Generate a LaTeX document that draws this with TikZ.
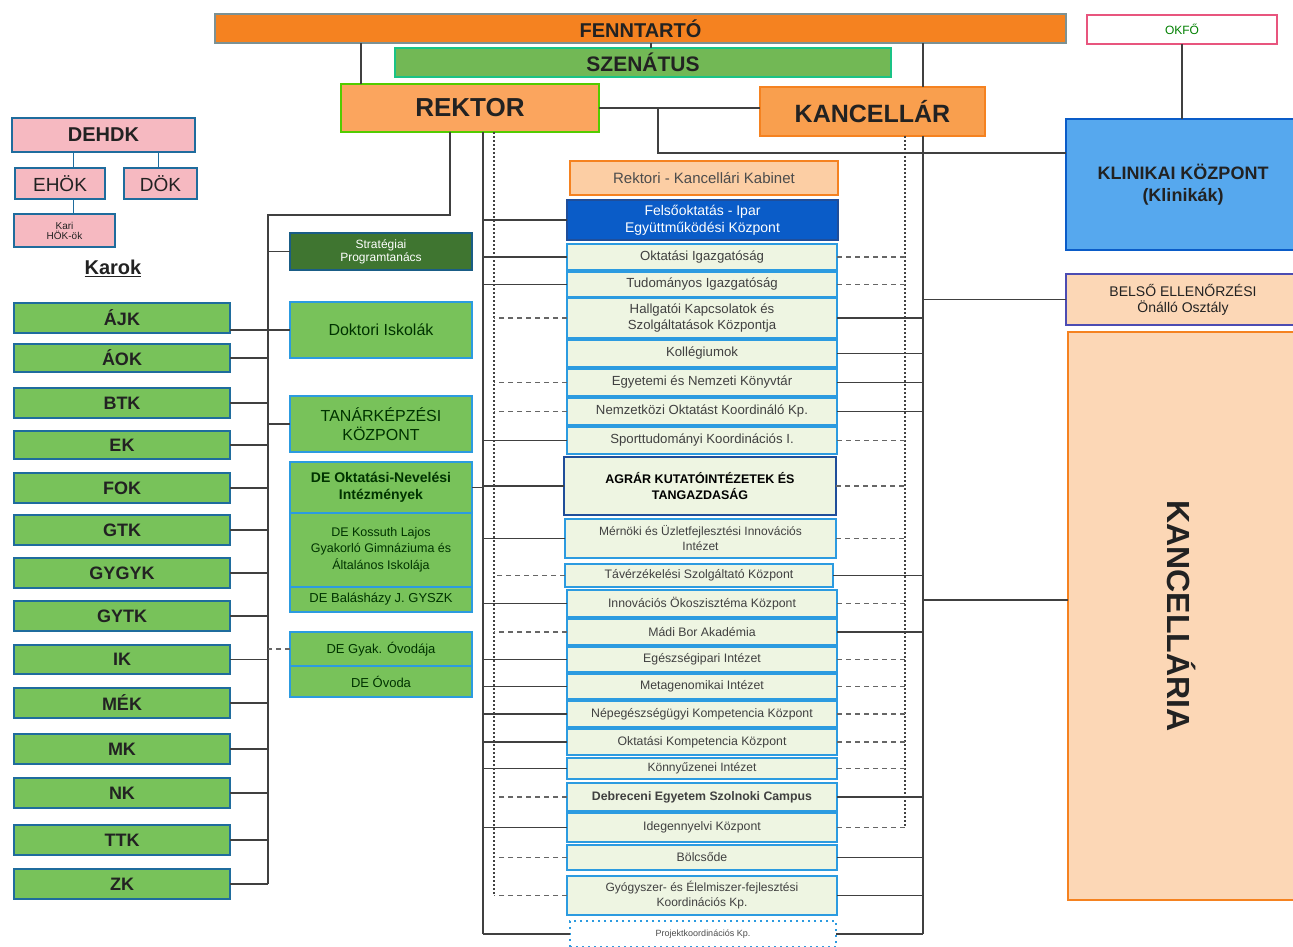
\documentclass[tikz,border=0pt]{standalone}
\usepackage{fontspec}
\setmainfont{Liberation Sans}
\usetikzlibrary{calc}
\definecolor{orgA}{HTML}{F58220}
\definecolor{orgB}{HTML}{F99F4E}
\definecolor{orgL}{HTML}{FBA55E}
\definecolor{peach}{HTML}{FCD7B6}
\definecolor{grn}{HTML}{78C25A}
\definecolor{grnD}{HTML}{3F7530}
\definecolor{grnL}{HTML}{EEF5E2}
\definecolor{bluB}{HTML}{2C9BE0}
\definecolor{bluD}{HTML}{1F4E9A}
\definecolor{bluF}{HTML}{0A5CC8}
\definecolor{bluK}{HTML}{56A8EE}
\definecolor{pink}{HTML}{F6B9C1}
\definecolor{okfob}{HTML}{E8557E}
\definecolor{txt}{HTML}{222222}
\definecolor{lin}{HTML}{404040}
\newcommand\fsz[1]{\fontsize{#1}{#1}\selectfont}
% \BX{style}{x1}{y1}{x2}{y2}{name} {text};
\newcommand\BX[6]{\node[#1, minimum width={#4-#2}, minimum height={#5-#3}] (#6) at ({(#2+#4)/2},{(#3+#5)/2})}
\begin{document}
\begin{tikzpicture}[x=1pt,y=-1pt,
  bx/.style={draw, inner sep=0pt, outer sep=0pt, align=center, text=txt, line width=1.5pt},
  midb/.style={bx, fill=grnL, draw=bluB, line width=2pt, font=\fsz{13.2}, text=black!75},
  fac/.style={bx, fill=grn, draw=bluB!70!black, line width=2pt, font=\fsz{18}\bfseries},
  lgr/.style={bx, fill=grn, draw=bluB, line width=2pt, text=black!80!green},
  hok/.style={bx, fill=pink, draw=bluB!70!black, line width=1.5pt},
  conn/.style={draw=lin, line width=1.4pt},
  dconn/.style={draw=lin!80, line width=1.3pt, dash pattern=on 5pt off 4pt},
  dotv/.style={draw=lin, line width=1.6pt, dash pattern=on 1.6pt off 2.4pt}]
\useasboundingbox (0,0) rectangle (1293,947);
\fill[white] (0,0) rectangle (1293,947);

% ---- top level
\BX{bx, fill=orgA, draw=bluB!60!orgA, line width=1.2pt, font=\fsz{20}\bfseries}{215}{14}{1066}{43}{fenn} {FENNTARTÓ};
\BX{bx, fill=white, draw=okfob, line width=1.5pt, text=green!50!black, font=\fsz{12}}{1087}{15}{1277}{44}{okfo} {OKFŐ};
\BX{bx, fill=grn!95!black, draw=bluB!60!green, line width=1.5pt, font=\fsz{21}\bfseries}{395}{48}{891}{77}{szen} {SZENÁTUS};
\BX{bx, fill=orgL, draw=green!60!yellow!80!black, line width=2.5pt, font=\fsz{26}\bfseries}{341}{84}{599}{132}{rek} {REKTOR};
\BX{bx, fill=orgB, draw=orgA, line width=2.5pt, font=\fsz{25}\bfseries}{760}{87}{985}{136}{kanc} {KANCELLÁR};
\BX{bx, fill=bluK, draw=bluF, line width=2pt, font=\fsz{18}\bfseries}{1066}{119}{1300}{250}{klin} {KLINIKAI KÖZPONT\\[4pt](Klinikák)};
\BX{bx, fill=peach, draw=gray!60!blue, line width=1.5pt, font=\fsz{14}}{1066}{274}{1300}{325}{belso} {BELSŐ ELLENŐRZÉSI\\[2pt]Önálló Osztály};
\BX{bx, fill=peach, draw=orgA, line width=2.5pt}{1068}{332}{1300}{900}{kcl} {};
\node[rotate=-90, font=\fsz{32}\bfseries, text=txt] (kcltxt) at (1182,616) {KANCELLÁRIA};

% ---- HÖK
\BX{hok, font=\fsz{20}\bfseries}{12}{118}{195}{152}{dehdk} {DEHDK};
\BX{hok, font=\fsz{19}}{15}{168}{105}{199}{ehok} {EHÖK};
\BX{hok, font=\fsz{19}}{124}{168}{197}{199}{dokh} {DÖK};
\BX{hok, font=\fsz{10}}{14}{214}{115}{247}{kari} {Kari\\HÖK-ök};
\node[font=\fsz{20}\bfseries, text=txt] (karok) at (113,268) {\underline{Karok}};
\coordinate (hx1) at (73,0);
\coordinate (hx2) at (158,0);
\draw[conn, draw=bluB!70!black, line width=1pt] (dehdk.south -| hx1) -- (ehok.north -| hx1);
\draw[conn, draw=bluB!70!black, line width=1pt] (dehdk.south -| hx2) -- (dokh.north -| hx2);
\draw[conn, draw=bluB!70!black, line width=1pt] (ehok.south -| hx1) -- (kari.north -| hx1);

% ---- faculty column
\coordinate (LL) at (268,0);
\foreach \n/\t/\a/\b in {ajk/ÁJK/303/333, aok/ÁOK/344/372, btk/BTK/388/418, ek/EK/431/459, fok/FOK/473/503, gtk/GTK/515/545, gygyk/GYGYK/558/588, gytk/GYTK/601/631, ik/IK/645/674, mek/MÉK/688/718, mk/MK/734/764, nk/NK/778/808, ttk/TTK/825/855, zk/ZK/869/899}
  {\BX{fac}{14}{\a}{230}{\b}{\n} {\t};}

% ---- left middle boxes
\BX{bx, fill=grnD, draw=bluB!60!black, line width=2pt, text=white, font=\fsz{12}}{290}{233}{472}{270}{strat} {Stratégiai\\[1pt]Programtanács};
\BX{lgr, font=\fsz{16}}{290}{302}{472}{358}{dok} {Doktori Iskolák};
\BX{lgr, font=\fsz{16}}{290}{396}{472}{452}{tan} {TANÁRKÉPZÉSI\\[3pt]KÖZPONT};
\BX{lgr, font=\fsz{14}\bfseries}{290}{462}{472}{513}{deon} {DE Oktatási-Nevelési\\[3pt]Intézmények};
\BX{lgr, font=\fsz{12.5}}{290}{513}{472}{587}{kos} {DE Kossuth Lajos\\[3pt]Gyakorló Gimnáziuma és\\[3pt]Általános Iskolája};
\BX{lgr, font=\fsz{13}}{290}{587}{472}{612}{bal} {DE Balásházy J. GYSZK};
\BX{lgr, font=\fsz{13}}{290}{632}{472}{666}{ovi} {DE Gyak. Óvodája};
\BX{lgr, font=\fsz{13}}{290}{666}{472}{697}{ovo} {DE Óvoda};

% ---- middle column
\BX{bx, fill=peach!90!orange, draw=orgA, line width=2.5pt, font=\fsz{15}, text=black!70}{570}{161}{838}{195}{kab} {Rektori - Kancellári Kabinet};
\BX{bx, fill=bluF, draw=bluD, line width=2pt, text=white, font=\fsz{14}}{567}{200}{838}{240}{fel} {Felsőoktatás - Ipar\\[3pt]Együttműködési Központ};
\BX{midb}{567}{244}{837}{270}{okt} {Oktatási Igazgatóság};
\BX{midb}{567}{272}{837}{297}{tud} {Tudományos Igazgatóság};
\BX{midb}{567}{298}{837}{338}{hal} {Hallgatói Kapcsolatok és\\[3pt]Szolgáltatások Központja};
\BX{midb}{567}{340}{837}{367}{kol} {Kollégiumok};
\BX{midb}{567}{369}{837}{396}{kon} {Egyetemi és Nemzeti Könyvtár};
\BX{midb}{567}{398}{837}{425}{nem} {Nemzetközi Oktatást Koordináló Kp.};
\BX{midb}{567}{427}{837}{454}{spo} {Sporttudományi Koordinációs I.};
\BX{midb, draw=bluD, line width=2.5pt, font=\fsz{12.5}\bfseries, text=black}{564}{457}{836}{515}{agr} {AGRÁR KUTATÓINTÉZETEK ÉS\\[4pt]TANGAZDASÁG};
\BX{midb, font=\fsz{12}}{565}{519}{836}{558}{mer} {Mérnöki és Üzletfejlesztési Innovációs\\[3pt]Intézet};
\BX{midb, font=\fsz{12.3}}{565}{564}{833}{587}{tav} {Távérzékelési Szolgáltató Központ};
\BX{midb, font=\fsz{12.3}}{567}{590}{837}{617}{inn} {Innovációs Ökoszisztéma Központ};
\BX{midb, font=\fsz{12.3}}{567}{619}{837}{645}{mad} {Mádi Bor Akadémia};
\BX{midb, font=\fsz{12.3}}{567}{647}{837}{672}{ege} {Egészségipari Intézet};
\BX{midb, font=\fsz{12.3}}{567}{674}{837}{699}{met} {Metagenomikai Intézet};
\BX{midb, font=\fsz{12.3}}{567}{701}{837}{727}{nep} {Népegészségügyi Kompetencia Központ};
\BX{midb, font=\fsz{12.3}}{567}{729}{837}{755}{okk} {Oktatási Kompetencia Központ};
\BX{midb, font=\fsz{12}}{567}{758}{837}{779}{knz} {Könnyűzenei Intézet};
\BX{midb, font=\fsz{12.3}\bfseries}{567}{783}{837}{811}{szo} {Debreceni Egyetem Szolnoki Campus};
\BX{midb, font=\fsz{12.3}}{567}{813}{837}{842}{ide} {Idegennyelvi Központ};
\BX{midb, font=\fsz{12.3}}{567}{845}{837}{870}{bol} {Bölcsőde};
\BX{midb, font=\fsz{12}}{567}{876}{837}{915}{gyo} {Gyógyszer- és Élelmiszer-fejlesztési\\[3pt]Koordinációs Kp.};
\BX{bx, fill=white, draw=bluB, line width=2pt, dash pattern=on 2pt off 4pt, font=\fsz{9}, text=black!70}{570}{921}{836}{947}{pro} {Projektkoordinációs Kp.};

% ---- coordinates of the vertical buses
\coordinate (L) at (483,0);
\coordinate (Ld) at (494,0);
\coordinate (R) at (923,0);
\coordinate (Rd) at (905,0);
\coordinate (RR) at (450,0);
\coordinate (jx) at (658,0);
\coordinate (j2) at (658,153);
\coordinate (sz) at (651,0);
\coordinate (fr) at (361,0);
\coordinate (k600) at (923,600);
\coordinate (lt) at (450,215);

% ---- top connectors
\draw[conn] (fenn.south -| fr) -- (rek.north -| fr);
\draw[conn] (fenn.south -| sz) -- (szen.north -| sz);
\draw[conn] (fenn.south -| R) -- (kanc.north -| R);
\draw[conn] (rek.east) -- (rek.east -| kanc.west);
\draw[conn] (rek.east -| jx) -- (j2) -- (j2 -| klin.west);
\draw[conn] (okfo.south) -- (okfo.south |- klin.north);
\draw[conn] (belso.west) -- (belso.west -| R);
\draw[conn] (k600) -- (k600 -| kcl.west);

% ---- rector to faculties
\draw[conn] (rek.south -| RR) -- (lt) -- (lt -| LL) -- (zk.east -| LL);
\foreach \n in {aok,btk,ek,fok,gtk,gygyk,gytk,ik,mek,mk,nk,ttk,zk}
  {\draw[conn] (\n.east) -- (\n.east -| LL);}
\draw[conn] (ajk.east |- dok.west) -- (dok.west);
\draw[conn] (strat.west) -- (strat.west -| LL);
\draw[conn] (tan.west) -- (tan.west -| LL);
\draw[dconn] (ovi.west) -- (ovi.west -| LL);
\draw[conn] (deon.east) -- (deon.east -| L);

% ---- left buses
\draw[conn] (rek.south -| L) -- (pro.west -| L);
\draw[dotv] (rek.south -| Ld) -- (gyo.west -| Ld);
\foreach \n in {fel,okt,tud,spo,agr,mer,inn,ege,met,nep,okk,knz,ide,pro}
  {\draw[conn] (\n.west) -- (\n.west -| L);}
\foreach \n in {hal,kon,nem,tav,mad,szo,bol,gyo}
  {\draw[dconn] (\n.west) -- (\n.west -| Ld);}

% ---- right buses
\draw[conn] (kanc.south -| R) -- (pro.east -| R);
\draw[dotv] (kanc.south -| Rd) -- (ide.east -| Rd);
\foreach \n in {hal,kol,kon,nem,tav,mad,szo,bol,gyo,pro}
  {\draw[conn] (\n.east) -- (\n.east -| R);}
\foreach \n in {okt,tud,spo,agr,mer,inn,ege,met,nep,okk,knz,ide}
  {\draw[dconn] (\n.east) -- (\n.east -| Rd);}
\end{tikzpicture}
\end{document}
